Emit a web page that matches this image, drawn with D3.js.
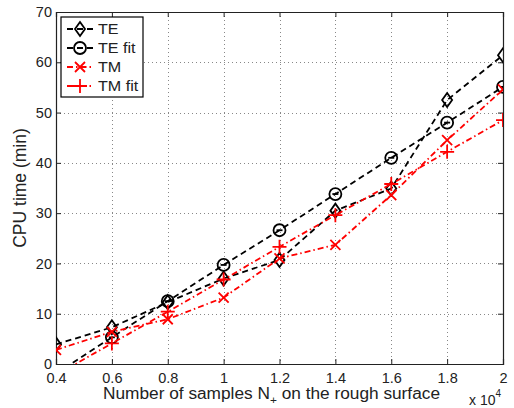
<!DOCTYPE html>
<html>
<head>
<meta charset="utf-8">
<script src="https://cdn.jsdelivr.net/npm/d3@7"></script>
<style>
  body { margin: 0; background: #fff; }
  text { font-family: "Liberation Sans", Arial, sans-serif; fill: #222; }
</style>
</head>
<body>
<svg id="chart"></svg>
<script>
// samples (x 10^4)
const samples = [0.4, 0.6, 0.8, 1.0, 1.2, 1.4, 1.6, 1.8, 2.0]
const teTime = [3.9, 7.3, 12.3, 17.0, 20.7, 30.5, 34.9, 52.5, 61.4]
const teFit = [-1.9, 5.3, 12.5, 19.7, 26.6, 33.8, 41.0, 48.0, 55.1]
const tmTime = [2.8, 6.4, 8.9, 13.2, 21.0, 23.7, 33.6, 44.5, 54.6]
const tmFit = [-2.2, 4.1, 10.4, 16.8, 23.3, 29.6, 35.8, 42.2, 48.5]
const xTicks = [0.4, 0.6, 0.8, 1, 1.2, 1.4, 1.6, 1.8, 2]
const yTicks = [0, 10, 20, 30, 40, 50, 60, 70]

const width = 514
const height = 408
const svg = d3.select('svg#chart')
  .attr('width', width)
  .attr('height', height)

const pLeft = 56, pRight = 503, pTop = 12, pBottom = 364

const x = d3.scaleLinear().domain([0.4, 2]).range([pLeft, pRight])
const y = d3.scaleLinear().domain([0, 70]).range([pBottom, pTop])

svg.append('defs').append('clipPath').attr('id', 'plotclip')
  .append('rect')
  .attr('x', pLeft).attr('y', pTop)
  .attr('width', pRight - pLeft).attr('height', pBottom - pTop)

// grid
const grid = svg.append('g')
  .attr('stroke', '#888')
  .attr('stroke-width', 1)
  .attr('stroke-dasharray', '1,3')
grid.selectAll('.gx').data(xTicks.slice(1, -1)).enter().append('line')
  .attr('x1', d => Math.round(x(d)) + 0.5).attr('x2', d => Math.round(x(d)) + 0.5)
  .attr('y1', pTop).attr('y2', pBottom)
grid.selectAll('.gy').data(yTicks.slice(1, -1)).enter().append('line')
  .attr('y1', d => Math.round(y(d)) + 0.5).attr('y2', d => Math.round(y(d)) + 0.5)
  .attr('x1', pLeft).attr('x2', pRight)

// axes (matlab style: inward ticks, box)
svg.append('g')
  .attr('transform', `translate(0,${pBottom})`)
  .call(d3.axisBottom(x).tickValues(xTicks).tickSize(-5).tickPadding(9).tickFormat(d3.format('')))
svg.append('g')
  .attr('transform', `translate(${pLeft},0)`)
  .call(d3.axisLeft(y).tickValues(yTicks).tickSize(-5).tickPadding(4))
svg.append('g')
  .attr('transform', `translate(0,${pTop})`)
  .call(d3.axisTop(x).tickValues(xTicks).tickSize(-5).tickFormat(''))
svg.append('g')
  .attr('transform', `translate(${pRight},0)`)
  .call(d3.axisRight(y).tickValues(yTicks).tickSize(-5).tickFormat(''))

svg.selectAll('.domain').attr('stroke', '#222').attr('stroke-width', 1.2)
svg.selectAll('.tick line').attr('stroke', '#222')
svg.selectAll('.tick text').attr('font-size', 14.5).attr('fill', '#222')
  .attr('font-family', '"Liberation Sans", Arial, sans-serif')

// series
const series = [
  { name: 'TE', vals: teTime, color: '#000', dash: '6,4', marker: 'diamond' },
  { name: 'TE fit', vals: teFit, color: '#000', dash: '6,4', marker: 'circle' },
  { name: 'TM', vals: tmTime, color: '#f00', dash: '6,3,1.5,3', marker: 'x' },
  { name: 'TM fit', vals: tmFit, color: '#f00', dash: '6,3,1.5,3', marker: 'plus' }
]

const line = d3.line().x(d => x(d[0])).y(d => y(d[1]))

function drawMarker(g, type, color) {
  g.attr('fill', 'none').attr('stroke', color).attr('stroke-width', 1.8)
  if (type === 'diamond') {
    g.append('path').attr('d', 'M0,-7L5,0L0,7L-5,0Z')
  } else if (type === 'circle') {
    g.append('circle').attr('r', 6)
    g.append('line').attr('x1', -3).attr('x2', 3).attr('y1', 0).attr('y2', 0)
  } else if (type === 'x') {
    g.append('path').attr('d', 'M-5,-5L5,5M-5,5L5,-5')
  } else {
    g.append('path').attr('d', 'M-7,0L7,0M0,-7L0,7')
  }
}

const plot = svg.append('g').attr('clip-path', 'url(#plotclip)')
series.forEach(s => {
  const pts = samples.map((v, i) => [v, s.vals[i]])
  plot.append('path')
    .datum(pts)
    .attr('fill', 'none')
    .attr('stroke', s.color)
    .attr('stroke-width', 1.8)
    .attr('stroke-dasharray', s.dash)
    .attr('d', line)
  pts.forEach(p => {
    const m = plot.append('g').attr('transform', `translate(${x(p[0])},${y(p[1])})`)
    drawMarker(m, s.marker, s.color)
  })
})

// legend
const legend = svg.append('g').attr('transform', 'translate(61,17)')
legend.append('rect')
  .attr('width', 82).attr('height', 80)
  .attr('fill', '#fff').attr('stroke', '#000').attr('stroke-width', 1.2)
series.forEach((s, i) => {
  const ly = 12 + i * 19
  legend.append('line')
    .attr('x1', 6).attr('x2', 32).attr('y1', ly).attr('y2', ly)
    .attr('stroke', s.color).attr('stroke-width', 1.8)
    .attr('stroke-dasharray', s.dash)
  const m = legend.append('g').attr('transform', `translate(19,${ly})`)
  drawMarker(m, s.marker, s.color)
  legend.append('text')
    .attr('transform', `translate(37,${ly + 5}) scale(1.15,1)`)
    .attr('font-size', 14)
    .text(s.name)
})

// labels
const xl = svg.append('text')
  .attr('x', 103).attr('y', 399)
  .attr('font-size', 16)
  .attr('textLength', 337)
  .attr('lengthAdjust', 'spacingAndGlyphs')
xl.append('tspan').text('Number of samples N')
xl.append('tspan').attr('font-size', 11).attr('dy', 5).text('+')
xl.append('tspan').attr('dy', -5).text(' on the rough surface')

const xe = svg.append('text').attr('x', 469).attr('y', 405).attr('font-size', 14)
xe.append('tspan').text('x 10')
xe.append('tspan').attr('font-size', 10).attr('dy', -8).text('4')

svg.append('text')
  .attr('transform', `translate(26,${(pTop + pBottom) / 2}) rotate(-90)`)
  .attr('text-anchor', 'middle')
  .attr('font-size', 17.5)
  .text('CPU time (min)')
</script>
</body>
</html>
